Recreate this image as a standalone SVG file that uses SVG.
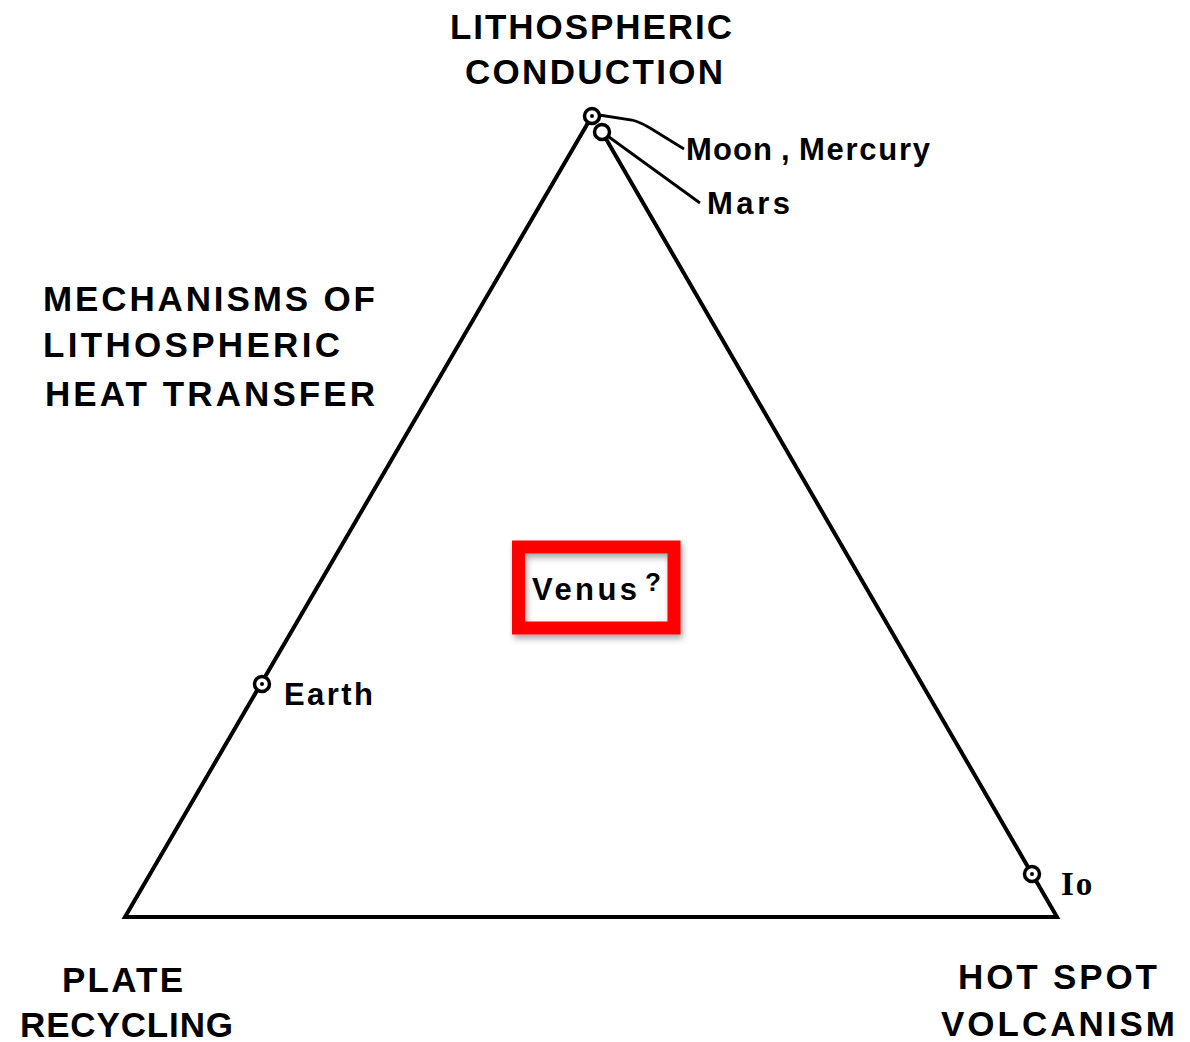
<svg xmlns="http://www.w3.org/2000/svg" width="1190" height="1042" viewBox="0 0 1190 1042">
<defs>
<style>
.head{font-family:"Liberation Sans",Arial,sans-serif;font-weight:bold;font-size:35px;fill:#000}
.lab{font-family:"Liberation Sans",Arial,sans-serif;font-weight:bold;font-size:31px;fill:#000}
.edge{fill:none;stroke:#000;stroke-width:4;stroke-linejoin:miter}
.lead{fill:none;stroke:#000;stroke-width:2.8}
.pt{fill:#fff;stroke:#000;stroke-width:3.5}
.dot{fill:#000}
</style>
<filter id="shadow" x="-20%" y="-20%" width="140%" height="150%">
<feDropShadow dx="2" dy="4" stdDeviation="3" flood-color="#000" flood-opacity="0.35"/>
</filter>
</defs>
<rect width="1190" height="1042" fill="#fff"/>
<g id="triangle">
<path class="edge" d="M592,116 L125,917 L1057,917 L602,132"/>
</g>
<g id="connectors">
<path class="lead" d="M599,115 L632,120 Q640,122 650,128 L684,149"/>
<path class="lead" d="M609,137 L700,203"/>
</g>
<g id="node-moon-mercury">
<circle class="pt" cx="592" cy="116" r="7.5"/>
<circle class="dot" cx="592" cy="116" r="2"/>
<text class="lab" y="160"><tspan x="686" textLength="86">Moon</tspan><tspan x="781">,</tspan><tspan x="799" textLength="131">Mercury</tspan></text>
</g>
<g id="node-mars">
<circle class="pt" cx="602" cy="132" r="7.5"/>
<text class="lab" x="707" y="214" textLength="83">Mars</text>
</g>
<g id="node-earth">
<circle class="pt" cx="262" cy="684" r="7.5"/>
<circle class="dot" cx="262" cy="684" r="2"/>
<text class="lab" x="284" y="705" textLength="89">Earth</text>
</g>
<g id="node-io">
<circle class="pt" cx="1032" cy="874" r="7.5"/>
<circle class="dot" cx="1032" cy="874" r="2"/>
<text x="1061" y="895" style="font-family:'Liberation Serif','Times New Roman',serif;font-weight:bold;font-size:33px;letter-spacing:2px">Io</text>
</g>
<g id="node-venus">
<rect x="518.5" y="547" width="155.5" height="81" fill="none" stroke="#ff0000" stroke-width="13" filter="url(#shadow)"/>
<text class="lab" x="532" y="600" textLength="105">Venus</text>
<text x="645" y="591" style="font-family:'Liberation Sans',Arial,sans-serif;font-weight:bold;font-size:26px">?</text>
</g>
<g id="title">
<text class="head" x="450" y="39" textLength="282">LITHOSPHERIC</text>
<text class="head" x="465" y="84" textLength="258">CONDUCTION</text>
</g>
<g id="caption">
<text class="head" x="43" y="311" textLength="332">MECHANISMS OF</text>
<text class="head" x="43" y="357" textLength="297">LITHOSPHERIC</text>
<text class="head" x="45" y="406" textLength="330">HEAT TRANSFER</text>
</g>
<g id="corner-plate">
<text class="head" x="62" y="992" textLength="121">PLATE</text>
<text class="head" x="20" y="1037" textLength="213">RECYCLING</text>
</g>
<g id="corner-hotspot">
<text class="head" x="958" y="989" textLength="199">HOT SPOT</text>
<text class="head" x="941" y="1036" textLength="234">VOLCANISM</text>
</g>
</svg>
